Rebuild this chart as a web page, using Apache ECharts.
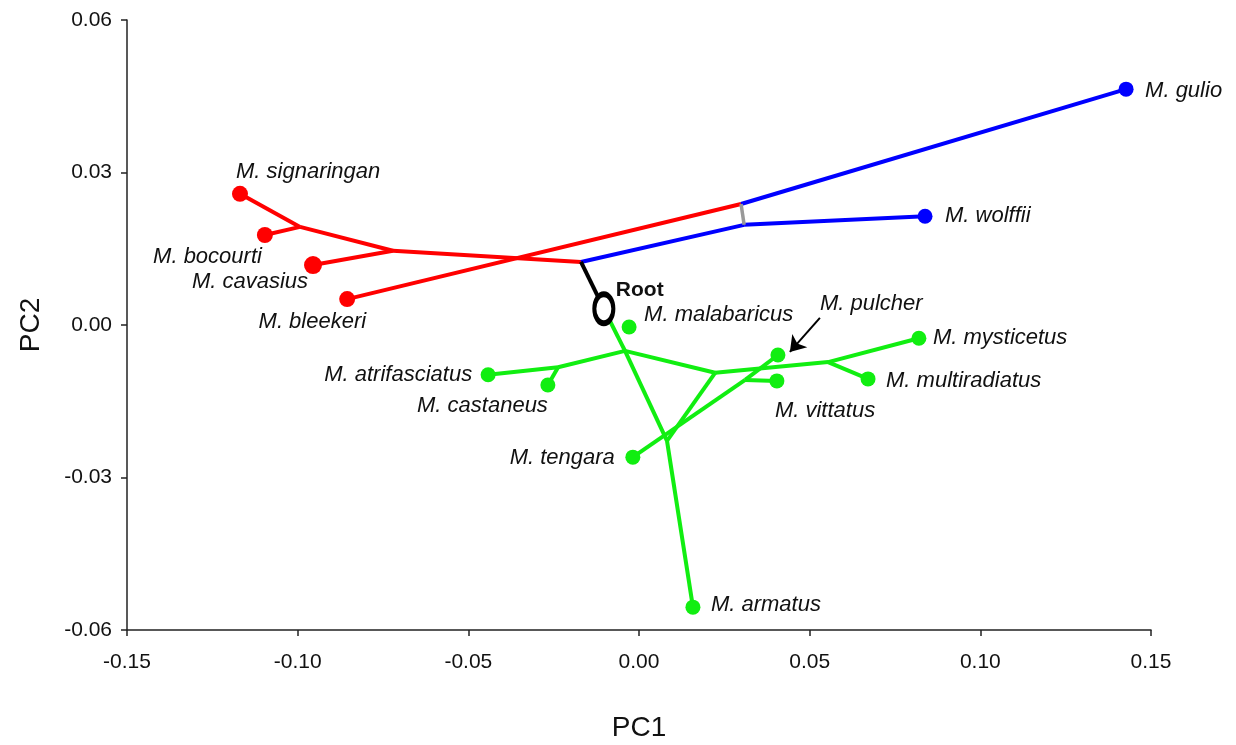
<!DOCTYPE html>
<html>
<head>
<meta charset="UTF-8">
<title>Phylomorphospace PC1 / PC2</title>
<script src="https://cdn.jsdelivr.net/npm/echarts@6/dist/echarts.min.js"></script>
<style>
  html, body { margin: 0; padding: 0; background: #fff; }
  #main { width: 1236px; height: 745px; }
</style>
</head>
<body>
<div id="main"></div>
<script type="text/javascript">
// tips (species)
var tipNames = ['M. gulio', 'M. wolffii', 'M. signaringan', 'M. bocourti', 'M. cavasius', 'M. bleekeri',
  'M. malabaricus', 'M. atrifasciatus', 'M. castaneus', 'M. pulcher', 'M. vittatus', 'M. mysticetus',
  'M. multiradiatus', 'M. tengara', 'M. armatus'];
var tipPC1 = [0.1427, 0.0838, -0.1169, -0.1096, -0.0955, -0.0855,
  -0.0029, -0.0442, -0.0267, 0.0407, 0.0404, 0.0820,
  0.0671, -0.0018, 0.0158];
var tipPC2 = [0.0464, 0.0214, 0.0258, 0.0177, 0.0118, 0.0051,
  -0.0004, -0.0098, -0.0118, -0.0059, -0.0110, -0.0026,
  -0.0106, -0.0260, -0.0555];
var tipClade = ['blue', 'blue', 'red', 'red', 'red', 'red',
  'green', 'green', 'green', 'green', 'green', 'green',
  'green', 'green', 'green'];

// internal nodes
var nodeNames = ['Root', 'J', 'U', 'L', 'R1', 'R2', 'G1', 'C1', 'G2', 'G3', 'G4', 'G5'];
var nodePC1 = [-0.0103, -0.0170, 0.0299, 0.0308, -0.0993, -0.0721, -0.0041, -0.0237, 0.0223, 0.0082, 0.0311, 0.0554];
var nodePC2 = [0.0032, 0.0124, 0.0238, 0.0197, 0.0193, 0.0146, -0.0051, -0.0083, -0.0094, -0.0228, -0.0108, -0.0073];

// branches
var redEdges = [['M. signaringan', 'R1'], ['M. bocourti', 'R1'], ['R1', 'R2'], ['M. cavasius', 'R2'],
  ['R2', 'J'], ['M. bleekeri', 'U']];
var blueEdges = [['J', 'L'], ['L', 'M. wolffii'], ['U', 'M. gulio']];
var grayEdges = [['U', 'L']];
var blackEdges = [['J', 'Root']];
var greenEdges = [['Root', 'G1'], ['G1', 'C1'], ['C1', 'M. atrifasciatus'], ['C1', 'M. castaneus'],
  ['G1', 'G2'], ['G2', 'G5'], ['G5', 'M. mysticetus'], ['G5', 'M. multiradiatus'], ['G2', 'G3'],
  ['G1', 'G3'], ['G3', 'M. armatus'], ['M. tengara', 'G4'], ['G4', 'M. pulcher'], ['G4', 'M. vittatus']];

// pointer arrow for M. pulcher
var arrowFrom = [0.0530, 0.0014];
var arrowTo = [0.0442, -0.0053];

var xTicks = [-0.15, 0.15, 0.05];
var yTicks = [-0.06, 0.06, 0.03];

// ---- styling ----
var cladeColor = { red: '#ff0000', blue: '#0000ff', green: '#11ee11' };
var FONT = "'Liberation Sans', Arial, sans-serif";
// [align, dx, dy] relative to the dot centre
var labelPos = {
  'M. gulio': ['left', 19, 2], 'M. wolffii': ['left', 20, 0],
  'M. signaringan': ['left', -4, -22], 'M. bocourti': ['right', -3, 22],
  'M. cavasius': ['right', -5, 17], 'M. bleekeri': ['right', 19, 23],
  'M. malabaricus': ['left', 15, -12], 'M. pulcher': ['left', 42, -51],
  'M. mysticetus': ['left', 14, 0], 'M. multiradiatus': ['left', 18, 2],
  'M. vittatus': ['left', -2, 30], 'M. atrifasciatus': ['right', -16, 0],
  'M. castaneus': ['right', 0, 21], 'M. tengara': ['right', -18, 1],
  'M. armatus': ['left', 18, -2]
};

var pos = {};
tipNames.forEach(function (n, i) { pos[n] = [tipPC1[i], tipPC2[i]]; });
nodeNames.forEach(function (n, i) { pos[n] = [nodePC1[i], nodePC2[i]]; });

function edgeSeries(edges, color, width) {
  return {
    type: 'lines',
    coordinateSystem: 'cartesian2d',
    silent: true,
    z: 2,
    lineStyle: { color: color, width: width, opacity: 1 },
    data: edges.map(function (e) { return { coords: [pos[e[0]], pos[e[1]]] }; })
  };
}

var tipData = tipNames.map(function (n, i) {
  var lp = labelPos[n];
  return {
    name: n,
    value: [tipPC1[i], tipPC2[i]],
    symbolSize: n === 'M. cavasius' ? 18 : (tipClade[i] === 'red' ? 16 : 15),
    itemStyle: { color: cladeColor[tipClade[i]], opacity: 1 },
    label: { align: lp[0], offset: [lp[1], lp[2]] }
  };
});

var myChart = echarts.init(document.getElementById('main'));
myChart.setOption({
  animation: false,
  backgroundColor: '#fff',
  grid: { left: 127, right: 85, top: 20, bottom: 115, containLabel: false, outerBoundsMode: 'none' },
  xAxis: {
    type: 'value',
    min: xTicks[0], max: xTicks[1], interval: xTicks[2],
    name: 'PC1', nameLocation: 'middle', nameGap: 84,
    nameTextStyle: { fontFamily: FONT, fontSize: 28, color: '#111' },
    axisLine: { onZero: false, lineStyle: { color: '#222', width: 1.5 } },
    axisTick: { length: 6, lineStyle: { color: '#222', width: 1.5 } },
    axisLabel: { margin: 22, fontFamily: FONT, fontSize: 21, color: '#111',
      formatter: function (v) { return v.toFixed(2); } },
    splitLine: { show: false }
  },
  yAxis: {
    type: 'value',
    min: yTicks[0], max: yTicks[1], interval: yTicks[2],
    name: 'PC2', nameLocation: 'middle', nameGap: 82,
    nameTextStyle: { fontFamily: FONT, fontSize: 28, color: '#111' },
    axisLine: { onZero: false, lineStyle: { color: '#222', width: 1.5 } },
    axisTick: { length: 6, lineStyle: { color: '#222', width: 1.5 } },
    axisLabel: { margin: 15, fontFamily: FONT, fontSize: 21, color: '#111',
      formatter: function (v) { return v.toFixed(2); } },
    splitLine: { show: false }
  },
  series: [
    edgeSeries(redEdges, cladeColor.red, 4),
    edgeSeries(blueEdges, cladeColor.blue, 4),
    edgeSeries(greenEdges, cladeColor.green, 4),
    edgeSeries(grayEdges, '#999999', 3.5),
    edgeSeries(blackEdges, '#000000', 4),
    {
      type: 'lines',
      coordinateSystem: 'cartesian2d',
      silent: true,
      z: 4,
      symbol: ['none', 'arrow'],
      symbolSize: 15,
      lineStyle: { color: '#000', width: 2, opacity: 1 },
      data: [{ coords: [arrowFrom, arrowTo] }]
    },
    {
      type: 'scatter',
      z: 5,
      symbol: 'circle',
      data: tipData,
      label: {
        show: true,
        position: 'inside',
        verticalAlign: 'middle',
        formatter: '{b}',
        fontFamily: FONT,
        fontStyle: 'italic',
        fontSize: 22,
        color: '#111'
      }
    },
    {
      type: 'scatter',
      z: 6,
      symbol: 'circle',
      symbolSize: [19, 29],
      itemStyle: { color: '#fff', borderColor: '#000', borderWidth: 5, opacity: 1 },
      data: [{ name: 'Root', value: pos['Root'] }],
      label: {
        show: true,
        position: 'inside',
        align: 'left',
        verticalAlign: 'middle',
        offset: [12, -19],
        formatter: '{b}',
        fontFamily: FONT,
        fontWeight: 'bold',
        fontSize: 21,
        color: '#111'
      }
    }
  ]
});
</script>
</body>
</html>
